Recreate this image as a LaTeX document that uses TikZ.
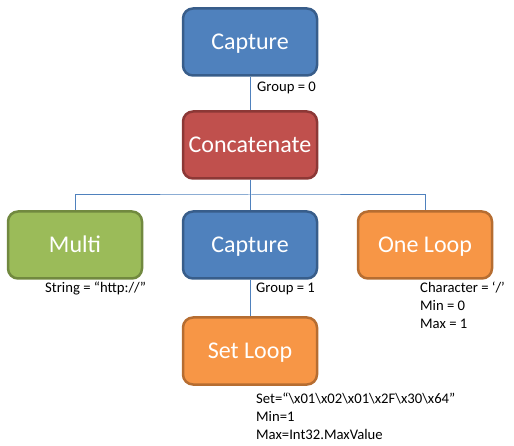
\documentclass[tikz,border=0pt]{standalone}
\usepackage{fontspec}
\setmainfont{Carlito}
\definecolor{bluefill}{HTML}{4F81BD}
\definecolor{blueline}{HTML}{385D8A}
\definecolor{redfill}{HTML}{C0504D}
\definecolor{redline}{HTML}{8C3836}
\definecolor{greenfill}{HTML}{9BBB59}
\definecolor{greenline}{HTML}{71893F}
\definecolor{orangefill}{HTML}{F79646}
\definecolor{orangeline}{HTML}{B66D31}
\definecolor{conn}{HTML}{4F81BD}
\tikzset{
  box/.style={rounded corners=10pt, line width=2.5pt, minimum width=134pt, minimum height=67pt,
    text=white, font=\fontsize{24}{29}\selectfont, text height=15.5pt, text depth=0pt, inner sep=0pt},
  bluebox/.style={box, fill=bluefill, draw=blueline},
  redbox/.style={box, fill=redfill, draw=redline},
  greenbox/.style={box, fill=greenfill, draw=greenline},
  orangebox/.style={box, fill=orangefill, draw=orangeline},
  lbl/.style={anchor=base west, inner sep=0pt, font=\fontsize{14.67}{18}\selectfont},
  connector/.style={draw=conn, line width=1pt}
}
\begin{document}
\begin{tikzpicture}[x=1pt,y=-1pt]
\useasboundingbox (0,0) rectangle (514,446);
\node[bluebox] (cap0) at (250,42) {Capture};
\node[redbox] (concat) at (250,145) {Concatenate};
\node[greenbox] (multi) at (75,245) {Multi};
\node[bluebox] (cap1) at (250,245) {Capture};
\node[orangebox] (oneloop) at (425,245) {One Loop};
\node[orangebox] (setloop) at (250,351) {Set Loop};

\draw[connector] (cap0.south) -- (concat.north);
\draw[connector] (concat.south) -- (cap1.north);
\coordinate (bus) at (250,195);
\draw[connector] (multi.north) |- (bus) -| (oneloop.north);
\draw[connector] (cap1.south) -- (setloop.north);

\node[lbl] (g0) at (257,91.7) {Group = 0};
\node[lbl] (str) at (45,292.5) {String = “http://”};
\node[lbl] (g1) at (256,292.5) {Group = 1};
\node[lbl] (ch) at (420,292.5) {Character = ‘/’};
\node[lbl] (min0) at (420,310.7) {Min = 0};
\node[lbl] (max1) at (420,329) {Max = 1};
\node[lbl] (set) at (256,403.3) {Set=“\textbackslash x01\textbackslash x02\textbackslash x01\textbackslash x2F\textbackslash x30\textbackslash x64”};
\node[lbl] (min1) at (256,421.5) {Min=1};
\node[lbl] (maxv) at (256,439.7) {Max=Int32.MaxValue};
\end{tikzpicture}
\end{document}
